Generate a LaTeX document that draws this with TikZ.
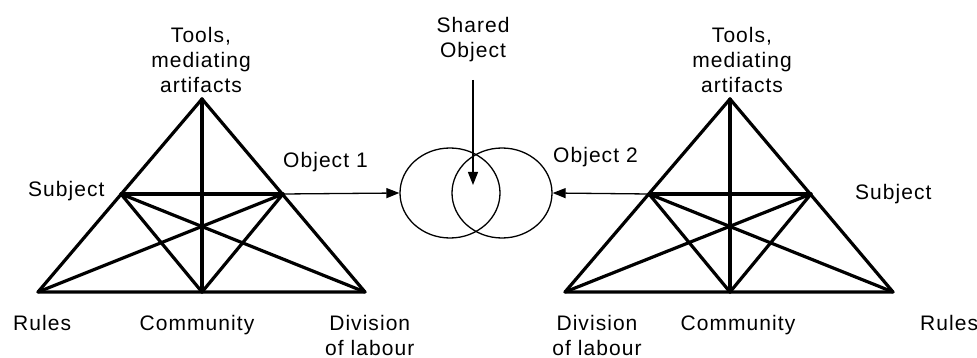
\documentclass[tikz,border=0pt]{standalone}
\usepackage{fontspec}
\setmainfont{Liberation Sans}[LetterSpace=5]
\usetikzlibrary{shapes.geometric,arrows.meta}
\begin{document}
\begin{tikzpicture}[x=1pt,y=-1pt,
  tri/.style={line width=3.2pt,line join=round,line cap=round},
  arr/.style={line width=1.3pt,-{Triangle[length=13pt,width=10pt]}},
  ell/.style={draw,ellipse,line width=1.3pt,minimum width=100pt,minimum height=90pt,inner sep=0pt},
  lab/.style={font=\fontsize{21}{25}\selectfont,inner sep=0pt,align=center,anchor=base}]
\path[use as bounding box] (0,0) rectangle (977,358);
% left triangle
\coordinate (LT) at (202,99);
\coordinate (LR) at (38,292);
\coordinate (LC) at (202,292);
\coordinate (LD) at (365,292);
\coordinate (LS) at (121,194);
\coordinate (LO) at (283,194);
\draw[tri] (LT) -- (LR) -- (LD) -- cycle;
\draw[tri] (LT) -- (LC);
\draw[tri] (LS) -- (LO);
\draw[tri] (LS) -- (LC) -- (LO);
\draw[tri] (LS) -- (LD);
\draw[tri] (LR) -- (LO);
% right triangle
\coordinate (RT) at (730,99);
\coordinate (RD) at (565,292);
\coordinate (RC) at (730,292);
\coordinate (RR) at (893,292);
\coordinate (RO) at (649,194);
\coordinate (RS) at (811,194);
\draw[tri] (RT) -- (RD) -- (RR) -- cycle;
\draw[tri] (RT) -- (RC);
\draw[tri] (RO) -- (RS);
\draw[tri] (RO) -- (RC) -- (RS);
\draw[tri] (RO) -- (RR);
\draw[tri] (RD) -- (RS);
% ellipses
\node[ell] (E1) at (450,193) {};
\node[ell] (E2) at (502,193) {};
\draw[arr] (LO) -- (E1.west);
\draw[arr] (RO) -- (E2.east);
\coordinate (SA) at (473,80);
\coordinate (SB) at (473,185);
\draw[arr] (SA) -- (SB);
% labels (anchor base = last line's baseline)
\node[lab] (lt) at (201,93) {Tools,\\mediating\\artifacts};
\node[lab,anchor=base west] (ls) at (28,197) {Subject};
\node[lab,anchor=base west] (lo) at (283,168) {Object 1};
\node[lab,anchor=base west] (lr) at (13,330) {Rules};
\node[lab] (lc) at (197,330) {Community};
\node[lab,anchor=base west] (ld) at (325,355) {Division\\of labour};
\node[lab] (so) at (473,58) {Shared\\Object};
\node[lab] (rt) at (742,93) {Tools,\\mediating\\artifacts};
\node[lab,anchor=base west] (ro) at (553,163) {Object 2};
\node[lab,anchor=base west] (rs) at (855,200) {Subject};
\node[lab] (rd) at (597,355) {Division\\of labour};
\node[lab] (rc) at (738,330) {Community};
\node[lab,anchor=base west] (rr) at (920,330) {Rules};
\end{tikzpicture}
\end{document}
